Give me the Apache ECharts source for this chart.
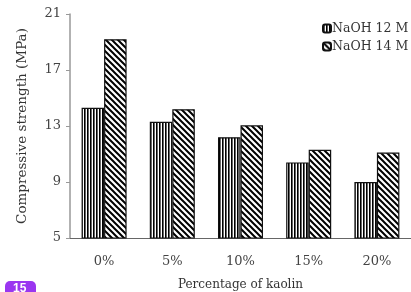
<!DOCTYPE html>
<html><head><meta charset="utf-8">
<script src="https://cdn.jsdelivr.net/npm/echarts@6/dist/echarts.min.js"></script>
<style>html,body{margin:0;padding:0;background:#fff}#c{width:411px;height:292px}</style>
</head><body><div id="c"></div>
<script>
const categories = ['0%', '5%', '10%', '15%', '20%'];
const naoh12 = [14.3, 13.3, 12.2, 10.4, 9.0];
const naoh14 = [19.2, 14.2, 13.05, 11.3, 11.1];
const seriesNames = ['NaOH 12 M', 'NaOH 14 M'];

function vPattern() {
  const c = document.createElement('canvas'); c.width = 3; c.height = 3;
  const g = c.getContext('2d');
  g.fillStyle = '#fff'; g.fillRect(0, 0, 3, 3);
  g.fillStyle = '#000'; g.fillRect(0, 0, 1, 3);
  g.fillStyle = '#666'; g.fillRect(1, 0, 1, 3);
  return c;
}
function dPattern() {
  const s = 6;
  const c = document.createElement('canvas'); c.width = s; c.height = s;
  const g = c.getContext('2d');
  g.fillStyle = '#fff'; g.fillRect(0, 0, s, s);
  g.strokeStyle = '#000'; g.lineWidth = 2;
  g.beginPath();
  g.moveTo(-1, -1); g.lineTo(s + 1, s + 1);
  g.moveTo(-1, s - 1); g.lineTo(1, s + 1);
  g.moveTo(s - 1, -1); g.lineTo(s + 1, 1);
  g.stroke();
  return c;
}
const font = 'DejaVu Serif';
const chart = echarts.init(document.getElementById('c'), null, {renderer: 'canvas'});
chart.setOption({
  animation: false,
  backgroundColor: '#fff',
  legend: {
    orient: 'vertical', left: 317, top: 17, itemWidth: 8, itemHeight: 8, itemGap: 5,
    textStyle: {fontFamily: font, fontSize: 12.5, color: '#333', padding: [0, 0, 0, -4]},
    data: seriesNames
  },
  grid: {left: 70, right: 0, top: 14, bottom: 54, outerBoundsMode: 'none', containLabel: false},
  xAxis: {
    type: 'category', data: categories,
    name: 'Percentage of kaolin', nameLocation: 'middle', nameGap: 41,
    nameTextStyle: {fontFamily: font, fontSize: 12, color: '#333'},
    axisLine: {lineStyle: {color: '#666', width: 1}},
    axisTick: {alignWithLabel: true, length: 3, lineStyle: {color: '#888'}},
    axisLabel: {fontFamily: font, fontSize: 13, color: '#444', margin: 17}
  },
  yAxis: {
    type: 'value', min: 5, max: 21, interval: 4,
    name: 'Compressive strength (MPa)', nameLocation: 'middle', nameGap: 41,
    nameTextStyle: {fontFamily: font, fontSize: 13.5, color: '#333'},
    axisLine: {show: true, lineStyle: {color: '#999', width: 1.5}},
    axisTick: {show: true, length: 4, lineStyle: {color: '#999'}},
    axisLabel: {fontFamily: font, fontSize: 13, color: '#444', margin: 9},
    splitLine: {show: false}
  },
  series: [
    {name: seriesNames[0], type: 'bar', data: naoh12, barWidth: '33%', barGap: '0%',
     itemStyle: {color: {image: vPattern(), repeat: 'repeat'}, borderColor: '#111', borderWidth: 1.2}},
    {name: seriesNames[1], type: 'bar', data: naoh14, barWidth: '33%', barGap: '0%',
     itemStyle: {color: {image: dPattern(), repeat: 'repeat'}, borderColor: '#111', borderWidth: 1.2}}
  ],
  graphic: [
    {type: 'rect', left: 5, top: 281, shape: {width: 31, height: 16, r: 5}, style: {fill: '#9a36f0'}},
    {type: 'text', left: 13, top: 283, style: {text: '15', fill: '#fff', font: 'bold 12px sans-serif'}}
  ]
});
</script></body></html>
